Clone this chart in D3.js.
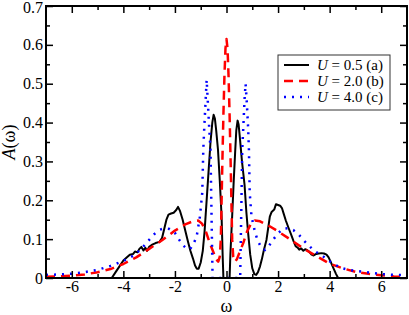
<!DOCTYPE html>
<html>
  <head>
    <meta charset="utf-8" />
    <title>Spectral function</title>
    <script src="https://d3js.org/d3.v7.min.js"></script>
    <style>
        body { margin: 0; background: #fff; }
        svg text { font-family: "Liberation Serif", "Times New Roman", Times, Tinos, "DejaVu Serif", "Noto Serif", serif; fill: #000; }
    </style>
  </head>
  <body>
    <svg id="chart"></svg>
    <script>
        // U = 0.5 (a)  -- [omega, A]
        var curveA = [[-7,0],[-4.45,0],[-4.3,0.015],[-4.15,0.03],[-4.0,0.045],[-3.85,0.054],[-3.75,0.06],[-3.62,0.062],
            [-3.55,0.068],[-3.45,0.066],[-3.38,0.075],[-3.3,0.08],[-3.22,0.071],[-3.15,0.078],[-3.08,0.07],[-3.0,0.08],
            [-2.9,0.085],[-2.75,0.09],[-2.6,0.093],[-2.5,0.103],[-2.42,0.125],[-2.33,0.15],[-2.25,0.163],[-2.15,0.166],
            [-2.05,0.168],[-1.95,0.175],[-1.88,0.183],[-1.8,0.172],[-1.7,0.15],[-1.6,0.122],[-1.5,0.095],[-1.4,0.07],
            [-1.3,0.05],[-1.22,0.032],[-1.15,0.024],[-1.08,0.024],[-1.0,0.04],[-0.92,0.07],[-0.85,0.12],[-0.78,0.19],
            [-0.7,0.27],[-0.62,0.35],[-0.55,0.4],[-0.5,0.42],[-0.45,0.41],[-0.4,0.38],[-0.33,0.33],[-0.26,0.25],
            [-0.19,0.158],[-0.15,0.06],[-0.12,0],[0.12,0],[0.15,0.06],[0.22,0.16],[0.28,0.25],[0.34,0.33],[0.38,0.38],
            [0.43,0.405],[0.47,0.395],[0.52,0.36],[0.6,0.3],[0.7,0.24],[0.77,0.17],[0.84,0.115],[0.92,0.06],[1.0,0.025],
            [1.08,0.01],[1.15,0.008],[1.22,0.015],[1.3,0.03],[1.37,0.048],[1.45,0.072],[1.55,0.098],[1.62,0.13],
            [1.68,0.158],[1.75,0.17],[1.85,0.176],[1.92,0.19],[2.0,0.188],[2.08,0.186],[2.15,0.18],[2.22,0.165],
            [2.3,0.148],[2.4,0.13],[2.5,0.113],[2.6,0.095],[2.68,0.082],[2.76,0.078],[2.82,0.073],[2.9,0.076],
            [2.98,0.07],[3.05,0.074],[3.12,0.072],[3.2,0.068],[3.3,0.06],[3.38,0.058],[3.48,0.062],[3.58,0.063],
            [3.68,0.064],[3.78,0.063],[3.88,0.06],[3.96,0.053],[4.05,0.04],[4.15,0.025],[4.25,0.01],[4.33,0],[7,0]];

        // U = 2.0 (b)
        var curveB = [[-7,0.003],[-6.5,0.004],[-6,0.006],[-5.5,0.009],[-5,0.015],[-4.5,0.023],[-4,0.036],[-3.5,0.053],
            [-3,0.075],[-2.5,0.097],[-2,0.122],[-1.6,0.138],[-1.3,0.146],[-1.1,0.148],[-0.95,0.14],[-0.8,0.12],
            [-0.65,0.09],[-0.5,0.065],[-0.4,0.048],[-0.32,0.042],[-0.26,0.055],[-0.22,0.1],[-0.19,0.2],[-0.16,0.3],
            [-0.12,0.42],[-0.08,0.52],[-0.04,0.59],[0,0.615],[0.04,0.59],[0.08,0.52],[0.12,0.42],[0.16,0.3],
            [0.19,0.2],[0.22,0.1],[0.26,0.055],[0.32,0.042],[0.4,0.048],[0.5,0.065],[0.65,0.09],[0.8,0.12],
            [0.95,0.14],[1.1,0.148],[1.3,0.146],[1.6,0.136],[2,0.12],[2.5,0.098],[3,0.075],[3.5,0.056],[4,0.037],
            [4.5,0.025],[5,0.016],[5.5,0.011],[6,0.007],[6.5,0.004],[7,0.002]];

        // U = 4.0 (c)
        var curveC = [[-7,0.008],[-6.5,0.009],[-6,0.011],[-5.5,0.015],[-5,0.021],[-4.5,0.031],[-4,0.044],[-3.6,0.058],
            [-3.3,0.075],[-3.0,0.098],[-2.8,0.113],[-2.6,0.124],[-2.4,0.128],[-2.2,0.126],[-2.0,0.116],[-1.85,0.1],
            [-1.7,0.085],[-1.55,0.076],[-1.42,0.074],[-1.3,0.085],[-1.16,0.106],[-1.03,0.158],[-0.94,0.22],
            [-0.9,0.33],[-0.86,0.39],[-0.8,0.47],[-0.77,0.51],[-0.73,0.46],[-0.67,0.385],[-0.62,0.33],[-0.59,0.2],
            [-0.56,0.08],[-0.54,0],[0.53,0],[0.55,0.08],[0.58,0.2],[0.61,0.33],[0.65,0.385],[0.7,0.46],[0.74,0.5],
            [0.78,0.46],[0.84,0.385],[0.87,0.33],[0.9,0.22],[0.97,0.158],[1.1,0.12],[1.2,0.098],[1.35,0.078],
            [1.5,0.072],[1.6,0.078],[1.8,0.098],[2.0,0.115],[2.2,0.127],[2.4,0.128],[2.6,0.123],[2.8,0.112],
            [3.0,0.096],[3.2,0.083],[3.4,0.07],[3.7,0.058],[4.0,0.043],[4.4,0.027],[4.8,0.02],[5.4,0.015],
            [6.0,0.01],[6.5,0.008],[7,0.007]];

        var xMajor = [-6, -4, -2, 0, 2, 4, 6];
        var xMinor = [-5, -3, -1, 1, 3, 5];
        var yMajor = [0, 0.1, 0.2, 0.3, 0.4, 0.5, 0.6, 0.7];
        var yMinor = [0.05, 0.15, 0.25, 0.35, 0.45, 0.55, 0.65];
        var legendValues = ["0.5 (a)", "2.0 (b)", "4.0 (c)"];

        var width = 409, height = 315;
        var margin = {top: 6, right: 2, bottom: 37, left: 46};
        var x0 = margin.left, x1 = width - margin.right;
        var y0 = height - margin.bottom, y1 = margin.top;

        var svg = d3.select("#chart").attr("width", width).attr("height", height);

        var x = d3.scaleLinear().domain([-7, 7]).range([x0, x1]);
        var y = d3.scaleLinear().domain([0, 0.7]).range([y0, y1]);

        var styles = [
            {data: curveA, color: "#000", width: 2, dash: null},
            {data: curveB, color: "#ff0000", width: 2.5, dash: "9,6"},
            {data: curveC, color: "#0000ff", width: 2.5, dash: "2,6"}
        ];

        svg.append("clipPath").attr("id", "clip")
            .append("rect").attr("x", x0).attr("y", y1).attr("width", x1 - x0).attr("height", y0 - y1);

        var line = d3.line()
            .x(function(d) { return x(d[0]); })
            .y(function(d) { return y(d[1]); });

        svg.append("g").attr("clip-path", "url(#clip)")
            .selectAll("path")
            .data(styles)
            .enter().append("path")
            .attr("d", function(d) { return line(d.data); })
            .attr("fill", "none")
            .attr("stroke", function(d) { return d.color; })
            .attr("stroke-width", function(d) { return d.width; })
            .attr("stroke-dasharray", function(d) { return d.dash; })
            .attr("stroke-linejoin", "round");

        // axes, ticks pointing inward
        function styleAxis(g) {
            g.attr("font-family", null);
            g.select(".domain").remove();
            g.selectAll("line").attr("stroke", "#000").attr("stroke-width", 1.5);
            g.selectAll("text").attr("font-size", 16);
        }
        var fmtX = function(d) { return String(d); };
        var fmtY = function(d) { return d === 0 ? "0" : d3.format(".1f")(d); };

        svg.append("g").attr("transform", "translate(0," + y0 + ")")
            .call(d3.axisBottom(x).tickValues(xMajor).tickSize(-7).tickPadding(3).tickFormat(fmtX)).call(styleAxis);
        svg.append("g").attr("transform", "translate(0," + y0 + ")")
            .call(d3.axisBottom(x).tickValues(xMinor).tickSize(-4).tickFormat("")).call(styleAxis);
        svg.append("g").attr("transform", "translate(0," + y1 + ")")
            .call(d3.axisTop(x).tickValues(xMajor).tickSize(-7).tickFormat("")).call(styleAxis);
        svg.append("g").attr("transform", "translate(0," + y1 + ")")
            .call(d3.axisTop(x).tickValues(xMinor).tickSize(-4).tickFormat("")).call(styleAxis);

        var yAxisG = svg.append("g").attr("transform", "translate(" + x0 + ",0)")
            .call(d3.axisLeft(y).tickValues(yMajor).tickSize(-7).tickPadding(3).tickFormat(fmtY)).call(styleAxis);
        // keep the top label inside the picture
        yAxisG.selectAll("text").filter(function(d) { return d === 0.7; }).attr("dy", "0.42em");
        svg.append("g").attr("transform", "translate(" + x0 + ",0)")
            .call(d3.axisLeft(y).tickValues(yMinor).tickSize(-4).tickFormat("")).call(styleAxis);
        svg.append("g").attr("transform", "translate(" + x1 + ",0)")
            .call(d3.axisRight(y).tickValues(yMajor).tickSize(-7).tickFormat("")).call(styleAxis);
        svg.append("g").attr("transform", "translate(" + x1 + ",0)")
            .call(d3.axisRight(y).tickValues(yMinor).tickSize(-4).tickFormat("")).call(styleAxis);

        // frame
        svg.append("rect")
            .attr("x", x0).attr("y", y1)
            .attr("width", x1 - x0).attr("height", y0 - y1)
            .attr("fill", "none").attr("stroke", "#000").attr("stroke-width", 2);

        // axis titles
        svg.append("text")
            .attr("x", x(0)).attr("y", 312)
            .attr("text-anchor", "middle").attr("font-size", 18)
            .text("ω");
        var yt = svg.append("text")
            .attr("transform", "translate(15," + ((y0 + y1) / 2) + ") rotate(-90)")
            .attr("text-anchor", "middle").attr("font-size", 18);
        yt.append("tspan").attr("font-style", "italic").text("A");
        yt.append("tspan").text("(ω)");

        // legend
        var lg = svg.append("g").attr("transform", "translate(278,55)");
        lg.append("rect").attr("width", 112).attr("height", 55)
            .attr("fill", "#fff").attr("stroke", "#333").attr("stroke-width", 1);
        var items = lg.selectAll(".item").data(styles).enter().append("g")
            .attr("class", "item")
            .attr("transform", function(d, i) { return "translate(0," + (10 + i * 16) + ")"; });
        items.append("line")
            .attr("x1", 6).attr("x2", 31)
            .attr("stroke", function(d) { return d.color; })
            .attr("stroke-width", function(d) { return d.width; })
            .attr("stroke-dasharray", function(d) { return d.dash; });
        var lt = items.append("text").attr("x", 39).attr("y", 5).attr("font-size", 15);
        lt.append("tspan").attr("font-style", "italic").text("U");
        lt.append("tspan").text(function(d, i) { return " = " + legendValues[i]; });
    </script>
  </body>
</html>
